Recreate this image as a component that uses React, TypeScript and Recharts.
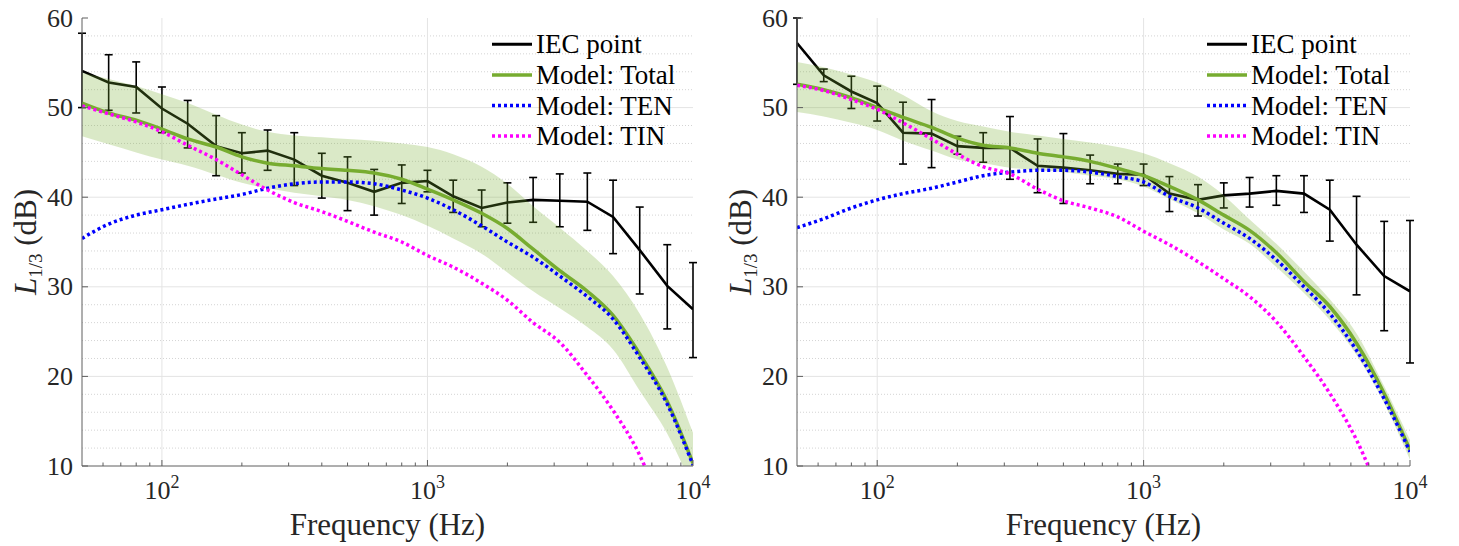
import React from 'react';
import { ComposedChart, Line, Area, XAxis, YAxis, ErrorBar, ReferenceLine } from 'recharts';

// third-octave band centre frequencies (Hz)
const freqs = [50, 63, 80, 100, 125, 160, 200, 250, 315, 400, 500, 630, 800, 1000, 1250, 1600, 2000, 2500, 3150, 4000, 5000, 6300, 8000, 10000];

// left panel
const iecLeft = [54.1, 52.8, 52.3, 49.9, 48.2, 45.7, 44.9, 45.2, 44.2, 42.4, 41.6, 40.6, 41.6, 41.8, 40.1, 38.8, 39.4, 39.7, 39.6, 39.5, 37.8, 34.1, 30.1, 27.5];
const iecLeftLo = [50.0, 49.7, 49.4, 47.2, 45.5, 42.4, 42.7, 43.0, 41.3, 39.9, 38.5, 38.0, 39.3, 40.6, 38.3, 36.7, 37.1, 37.2, 36.7, 36.3, 33.7, 29.2, 25.3, 22.1];
const iecLeftHi = [58.3, 55.9, 55.1, 52.3, 50.8, 49.1, 47.2, 47.5, 47.2, 44.9, 44.5, 43.1, 43.6, 43.0, 41.9, 40.8, 41.6, 42.2, 42.6, 42.7, 41.9, 38.9, 34.7, 32.7];
const totalLeft = [50.5, 49.4, 48.6, 47.6, 46.5, 45.6, 44.5, 43.8, 43.5, 43.2, 43.0, 42.7, 42.0, 40.9, 39.7, 38.2, 36.5, 34.2, 31.8, 29.5, 26.8, 22.5, 17.2, 10.3];
const tenLeft = [35.4, 37.0, 38.0, 38.6, 39.2, 39.8, 40.3, 41.0, 41.5, 41.7, 41.7, 41.5, 40.8, 39.9, 38.6, 36.8, 35.0, 33.3, 31.2, 28.9, 26.4, 22.1, 16.9, 10.1];
const tinLeft = [50.2, 49.3, 48.4, 47.3, 45.8, 44.2, 42.5, 40.8, 39.4, 38.4, 37.3, 36.1, 35.0, 33.5, 32.2, 30.4, 28.5, 26.0, 23.8, 20.1, 16.2, 11.2, 3.5, -6.0];
const bandLeftLo = [46.8, 45.9, 45.0, 44.2, 43.5, 42.5, 41.6, 41.0, 40.5, 40.1, 39.7, 39.0, 38.0, 36.8, 35.4, 33.7, 31.6, 29.5, 27.6, 25.5, 23.0, 18.4, 13.6, 7.5];
const bandLeftHi = [53.9, 53.2, 52.4, 51.5, 50.5, 49.2, 48.1, 47.3, 46.9, 46.7, 46.5, 46.3, 46.0, 45.6, 44.8, 43.4, 41.5, 39.0, 36.6, 34.0, 31.2, 27.0, 21.0, 13.7];

// right panel
const iecRight = [57.2, 53.6, 51.8, 50.5, 47.2, 47.1, 45.7, 45.5, 45.5, 43.5, 43.3, 43.0, 42.6, 42.5, 40.4, 39.7, 40.2, 40.4, 40.7, 40.4, 38.6, 34.7, 31.2, 29.5];
const iecRightLo = [52.6, 52.9, 49.9, 48.5, 43.7, 43.3, 44.8, 43.9, 42.0, 40.5, 39.3, 41.5, 41.5, 41.3, 38.4, 37.9, 38.8, 38.9, 39.1, 38.3, 35.1, 29.1, 25.1, 21.5];
const iecRightHi = [60.0, 54.3, 53.5, 52.4, 50.6, 50.9, 46.8, 47.2, 49.0, 46.5, 47.1, 44.7, 43.7, 43.7, 42.3, 41.4, 41.6, 42.2, 42.4, 42.4, 41.9, 40.1, 37.3, 37.4];
const totalRight = [52.6, 52.0, 51.1, 50.0, 48.9, 47.8, 46.6, 45.8, 45.5, 44.9, 44.5, 44.0, 43.2, 42.4, 41.2, 39.7, 38.0, 36.3, 33.8, 30.6, 27.8, 23.7, 18.1, 11.8];
const tenRight = [36.6, 37.6, 38.8, 39.7, 40.4, 41.0, 41.7, 42.4, 42.8, 43.0, 43.0, 42.8, 42.3, 41.7, 40.1, 38.8, 37.1, 35.4, 33.0, 30.0, 27.0, 22.9, 17.5, 11.6];
const tinRight = [52.5, 51.9, 50.9, 49.8, 48.3, 46.5, 44.8, 43.4, 42.6, 40.9, 39.6, 38.8, 37.8, 36.2, 34.7, 32.8, 30.9, 28.9, 26.1, 22.2, 18.1, 12.9, 5.5, -3.0];
const bandRightLo = [49.5, 49.0, 48.3, 47.5, 46.3, 45.2, 44.2, 43.8, 43.3, 43.0, 42.8, 42.4, 42.0, 41.2, 39.8, 38.2, 36.4, 34.8, 32.2, 29.3, 26.3, 22.4, 17.0, 10.7];
const bandRightHi = [55.1, 54.5, 53.7, 52.8, 51.4, 49.6, 48.5, 47.9, 47.3, 46.9, 46.5, 46.1, 45.6, 44.9, 43.8, 42.3, 40.2, 37.5, 34.8, 31.7, 28.6, 24.8, 18.9, 12.9];

// axes
const xMajorTicks = [100, 1000, 10000];
const xMinorTicks = [60, 70, 80, 90, 200, 300, 400, 500, 600, 700, 800, 900, 2000, 3000, 4000, 5000, 6000, 7000, 8000, 9000];
const xGridLines = [100, 1000];
const yTicks = [10, 20, 30, 40, 50, 60];
const yMinorTicks = [12, 14, 16, 18, 22, 24, 26, 28, 32, 34, 36, 38, 42, 44, 46, 48, 52, 54, 56, 58];

const legendNames = ['IEC point', 'Model: Total', 'Model: TEN', 'Model: TIN'];

const BLACK = '#000000';
const GREEN = '#77AC30';
const BLUE = '#0000FF';
const MAGENTA = '#FF00FF';
const axisColor = '#5e5e5e';
const textColor = '#262626';
const serif = { fontFamily: "'Liberation Serif', 'DejaVu Serif', serif" };

const allXTicks = [...xMinorTicks, ...xMajorTicks].sort((a, b) => a - b);

const buildRows = (iec: number[], lo: number[], hi: number[], total: number[], ten: number[], tin: number[], bLo: number[], bHi: number[]) =>
  freqs.map((f, i) => ({
    f,
    iec: iec[i],
    err: [+(iec[i] - lo[i]).toFixed(2), +(hi[i] - iec[i]).toFixed(2)],
    band: [bLo[i], bHi[i]],
    total: total[i],
    ten: ten[i],
    tin: tin[i],
  }));

const leftRows = buildRows(iecLeft, iecLeftLo, iecLeftHi, totalLeft, tenLeft, tinLeft, bandLeftLo, bandLeftHi);
const rightRows = buildRows(iecRight, iecRightLo, iecRightHi, totalRight, tenRight, tinRight, bandRightLo, bandRightHi);

const BottomTick = (props: any) => {
  const { x, y, payload } = props;
  const v = payload.value;
  const major = xMajorTicks.includes(v);
  return (
    <g>
      <line x1={x} x2={x} y1={y} y2={y - (major ? 6 : 3.5)} stroke={axisColor} strokeWidth={1} />
      {major && (
        <text x={x} y={y + 33} textAnchor="middle" style={serif} fontSize={26} fill={textColor}>
          10
          <tspan dy={-11} fontSize={18}>{Math.round(Math.log10(v))}</tspan>
        </text>
      )}
    </g>
  );
};

const TopTick = (props: any) => {
  const { x, y, payload } = props;
  const major = xMajorTicks.includes(payload.value);
  return <line x1={x} x2={x} y1={y} y2={y + (major ? 6 : 3.5)} stroke={axisColor} strokeWidth={1} />;
};

const LeftTick = (props: any) => {
  const { x, y, payload } = props;
  return (
    <g>
      <line x1={x} x2={x + 6} y1={y} y2={y} stroke={axisColor} strokeWidth={1} />
      <text x={x - 9} y={y + 8.5} textAnchor="end" style={serif} fontSize={26} fill={textColor}>
        {payload.value}
      </text>
    </g>
  );
};

const RightTick = (props: any) => {
  const { x, y } = props;
  return <line x1={x} x2={x - 6} y1={y} y2={y} stroke={axisColor} strokeWidth={1} />;
};

const XTitle = (props: any) => {
  const vb = props.viewBox || {};
  return (
    <text x={vb.x + vb.width / 2} y={vb.y + 69} textAnchor="middle" style={serif} fontSize={31} fill={textColor}>
      Frequency (Hz)
    </text>
  );
};

const YTitle = (props: any) => {
  const vb = props.viewBox || {};
  const cx = vb.x + 4;
  const cy = vb.y + vb.height / 2;
  return (
    <text transform={`translate(${cx},${cy}) rotate(-90)`} x={0} y={0} textAnchor="middle" style={serif} fontSize={31} fill={textColor}>
      <tspan fontStyle="italic">L</tspan>
      <tspan dy={6} fontSize={19}>1/3</tspan>
      <tspan dy={-6}>{'\u00a0(dB)'}</tspan>
    </text>
  );
};

const legendStyles = [
  { color: BLACK, dash: undefined, width: 3 },
  { color: GREEN, dash: undefined, width: 3.5 },
  { color: BLUE, dash: '3 3', width: 3.5 },
  { color: MAGENTA, dash: '3 3', width: 3.5 },
];

const LegendBox = ({ left }: { left: number }) => (
  <svg width={220} height={130} style={{ position: 'absolute', left, top: 28 }}>
    {legendNames.map((name, i) => {
      const cy = 16.3 + i * 30.6;
      const s = legendStyles[i];
      return (
        <g key={name}>
          <line x1={2} x2={42} y1={cy} y2={cy} stroke={s.color} strokeWidth={s.width} strokeDasharray={s.dash} />
          <text x={46} y={cy + 9} style={serif} fontSize={27} fill={BLACK}>
            {name}
          </text>
        </g>
      );
    })}
  </svg>
);

const Panel = ({ rows, width, marginLeft, marginRight }: { rows: any[]; width: number; marginLeft: number; marginRight: number }) => (
  <ComposedChart width={width} height={546} data={rows} margin={{ top: 18, right: marginRight, bottom: 50, left: marginLeft }}>
    {yMinorTicks.map((v) => (
      <ReferenceLine key={`ym-${v}`} y={v} stroke="#d4d4d4" strokeWidth={1} strokeDasharray="1 2" zIndex={-100} />
    ))}
    {yTicks.slice(1, -1).map((v) => (
      <ReferenceLine key={`y-${v}`} y={v} stroke="#e4e4e4" strokeWidth={1} zIndex={-100} />
    ))}
    {xGridLines.map((v) => (
      <ReferenceLine key={`x-${v}`} x={v} stroke="#e4e4e4" strokeWidth={1} zIndex={-100} />
    ))}
    <XAxis
      dataKey="f"
      type="number"
      scale="log"
      domain={[50, 10000]}
      allowDataOverflow
      ticks={allXTicks}
      interval={0}
      tickLine={false}
      tickSize={0}
      tickMargin={0}
      axisLine={{ stroke: axisColor }}
      tick={<BottomTick />}
      height={30}
      label={<XTitle />}
    />
    <XAxis
      xAxisId="top"
      orientation="top"
      dataKey="f"
      type="number"
      scale="log"
      domain={[50, 10000]}
      allowDataOverflow
      ticks={allXTicks}
      interval={0}
      tickLine={false}
      tickSize={0}
      tickMargin={0}
      axisLine={{ stroke: axisColor }}
      tick={<TopTick />}
      height={0}
    />
    <YAxis
      type="number"
      domain={[10, 60]}
      allowDataOverflow
      ticks={yTicks}
      interval={0}
      tickLine={false}
      tickSize={0}
      tickMargin={0}
      axisLine={{ stroke: axisColor }}
      tick={<LeftTick />}
      width={50}
      label={<YTitle />}
    />
    <YAxis
      yAxisId="right"
      orientation="right"
      type="number"
      domain={[10, 60]}
      allowDataOverflow
      ticks={yTicks}
      interval={0}
      tickLine={false}
      tickSize={0}
      tickMargin={0}
      axisLine={{ stroke: axisColor }}
      tick={<RightTick />}
      width={0}
    />
    <Line dataKey="iec" type="linear" stroke={BLACK} strokeWidth={2.6} dot={false} activeDot={false} isAnimationActive={false} zIndex={50}>
      <ErrorBar dataKey="err" direction="y" width={4} stroke={BLACK} strokeWidth={1.6} isAnimationActive={false} zIndex={50} />
    </Line>
    <Area dataKey="band" type="monotone" stroke="none" fill={GREEN} fillOpacity={0.27} isAnimationActive={false} zIndex={100} />
    <Line dataKey="total" type="monotone" stroke={GREEN} strokeWidth={3.5} dot={false} activeDot={false} isAnimationActive={false} />
    <Line dataKey="ten" type="monotone" stroke={BLUE} strokeWidth={3.5} strokeDasharray="3 3" dot={false} activeDot={false} isAnimationActive={false} />
    <Line dataKey="tin" type="monotone" stroke={MAGENTA} strokeWidth={3.5} strokeDasharray="3 3" dot={false} activeDot={false} isAnimationActive={false} />
  </ComposedChart>
);

export default function App() {
  return (
    <div style={{ position: 'absolute', left: 0, top: 0, width: 1459, height: 546, background: '#ffffff' }}>
      <div style={{ position: 'absolute', left: 0, top: 0 }}>
        <Panel rows={leftRows} width={720} marginLeft={32} marginRight={27} />
      </div>
      <div style={{ position: 'absolute', left: 720, top: 0 }}>
        <Panel rows={rightRows} width={739} marginLeft={27} marginRight={49} />
      </div>
      <LegendBox left={490} />
      <LegendBox left={1205} />
    </div>
  );
}
